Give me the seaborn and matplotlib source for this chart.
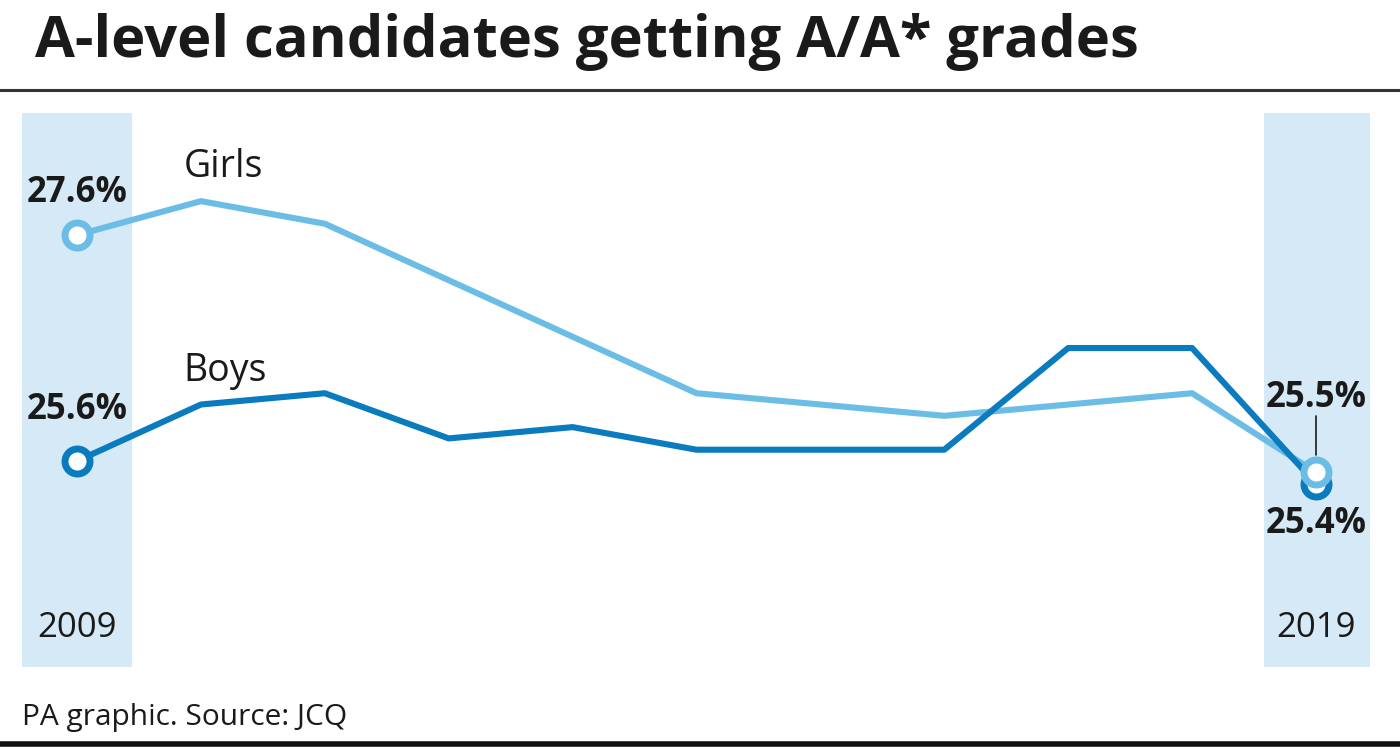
import pandas as pd
import seaborn as sns
import matplotlib.pyplot as plt

years = list(range(2009, 2020))
girls = [27.6, 27.9, 27.7, 27.2, 26.7, 26.2, 26.1, 26.0, 26.1, 26.2, 25.5]
boys = [25.6, 26.1, 26.2, 25.8, 25.9, 25.7, 25.7, 25.7, 26.6, 26.6, 25.4]
series_names = ['Girls', 'Boys']
colours = {'Girls': '#6bbde6', 'Boys': '#0a7bbf'}

df = pd.DataFrame({'year': years * 2,
                   'pct': girls + boys,
                   'group': ['Girls'] * len(years) + ['Boys'] * len(years)})

sns.set_style('white')
plt.rcParams['font.family'] = ['Open Sans', 'DejaVu Sans']

fig = plt.figure(figsize=(14, 7.49), dpi=100)
ax = fig.add_axes([22 / 1400, 82 / 749, 1348 / 1400, 554 / 749])

# shaded end-year bands
ax.axvspan(2008.556, 2009.444, color='#d5e9f6', lw=0, zorder=0)
ax.axvspan(2018.58, 2019.436, color='#d5e9f6', lw=0, zorder=0)

sns.lineplot(data=df, x='year', y='pct', hue='group', hue_order=series_names,
             palette=colours, lw=4.4, legend=False, ax=ax, zorder=2)

ends = df[df['year'].isin([years[0], years[-1]])]
for name in ['Boys', 'Girls']:
    sub = ends[ends['group'] == name]
    ax.plot(sub['year'], sub['pct'], ls='none', marker='o', ms=18,
            mfc='white', mec=colours[name], mew=5, zorder=3)

ax.set_xlim(2008.556, 2019.436)
ax.set_ylim(23.777, 28.68)
ax.axis('off')

lab = dict(fontsize=25, fontweight='bold', color='#1a1a1a', ha='center')
ax.text(2009, girls[0] + 0.37, f'{girls[0]}%', va='center', **lab)
ax.text(2009, boys[0] + 0.45, f'{boys[0]}%', va='center', **lab)
ax.text(2019, girls[-1] + 0.66, f'{girls[-1]}%', va='center', **lab)
ax.text(2019, boys[-1] - 0.36, f'{boys[-1]}%', va='center', **lab)
ax.plot([2019, 2019], [girls[-1] + 0.15, girls[-1] + 0.5], color='#1a1a1a', lw=1.2, zorder=1)

ax.text(2009.86, 28.2, 'Girls', fontsize=27, color='#1a1a1a', va='center')
ax.text(2009.86, 26.4, 'Boys', fontsize=27, color='#1a1a1a', va='center')
ax.text(2009, 24.12, '2009', fontsize=25, color='#1a1a1a', ha='center', va='center')
ax.text(2019, 24.12, '2019', fontsize=25, color='#1a1a1a', ha='center', va='center')

fig.text(35 / 1400, 1 - 42 / 749, 'A-level candidates getting A/A* grades',
         fontsize=41.7, fontweight='bold', color='#1a1a1a', va='center')
fig.add_artist(plt.Line2D([0, 1], [1 - 90 / 749] * 2, color='#333333', lw=2.2))
fig.add_artist(plt.Line2D([0, 1], [1 - 744 / 749] * 2, color='#111111', lw=4))
fig.text(22 / 1400, 1 - 718 / 749, 'PA graphic. Source: JCQ',
         fontsize=21.5, color='#1a1a1a', va='center')

fig.savefig('out.png', dpi=100)
